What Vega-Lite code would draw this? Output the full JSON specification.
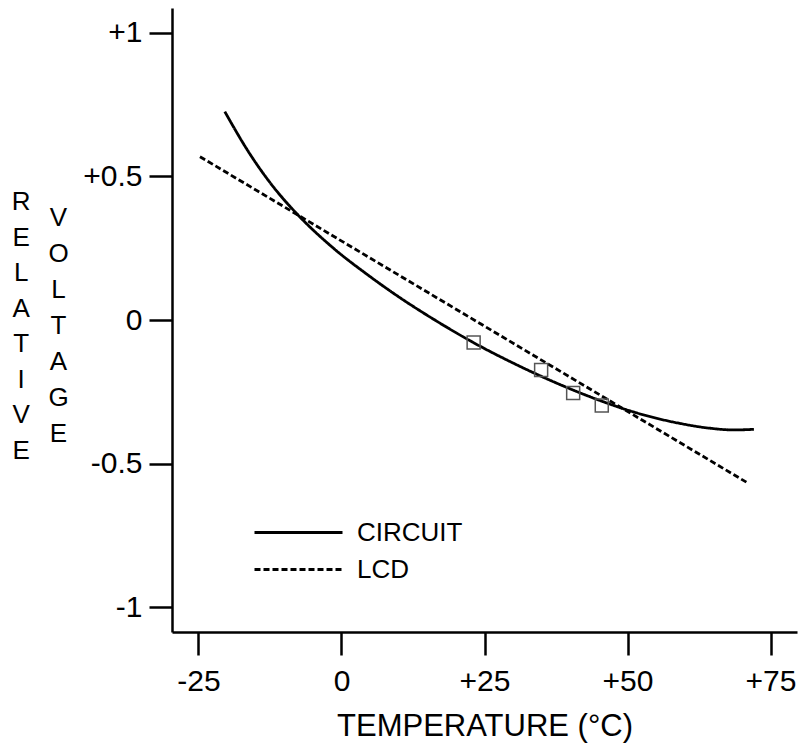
{
  "$schema": "https://vega.github.io/schema/vega-lite/v6.json",
  "width": 625,
  "height": 624,
  "autosize": {"type": "none"},
  "padding": {"left": 172, "top": 8, "right": 6, "bottom": 114},
  "background": "white",
  "title": {
    "text": ["R", "E", "L", "A", "T", "I", "V", "E"],
    "orient": "left",
    "anchor": "middle",
    "angle": 0,
    "align": "center",
    "baseline": "middle",
    "lineHeight": 35.5,
    "fontSize": 26,
    "font": "Liberation Sans",
    "fontWeight": "normal",
    "color": "black",
    "offset": 8,
    "dy": -118
  },
  "config": {
    "view": {"stroke": null},
    "axis": {
      "grid": false,
      "domainColor": "black",
      "domainWidth": 2.5,
      "tickColor": "black",
      "tickWidth": 2.5,
      "tickSize": 23,
      "labelFont": "Liberation Sans",
      "labelFontSize": 30,
      "labelColor": "black",
      "titleFont": "Liberation Sans",
      "titleFontWeight": "normal",
      "titleColor": "black"
    },
    "legend": {
      "labelFont": "Liberation Sans",
      "labelFontSize": 26,
      "labelColor": "black"
    }
  },
  "datasets": {
    "curves": [
      {"temp": -20.4, "voltage": 0.726, "series": "CIRCUIT"},
      {"temp": -16.0, "voltage": 0.578, "series": "CIRCUIT"},
      {"temp": -12.0, "voltage": 0.466, "series": "CIRCUIT"},
      {"temp": -7.8, "voltage": 0.37, "series": "CIRCUIT"},
      {"temp": -1.4, "voltage": 0.25, "series": "CIRCUIT"},
      {"temp": 4.4, "voltage": 0.16, "series": "CIRCUIT"},
      {"temp": 10.2, "voltage": 0.078, "series": "CIRCUIT"},
      {"temp": 15.5, "voltage": 0.01, "series": "CIRCUIT"},
      {"temp": 23.0, "voltage": -0.078, "series": "CIRCUIT"},
      {"temp": 30.0, "voltage": -0.15, "series": "CIRCUIT"},
      {"temp": 39.4, "voltage": -0.235, "series": "CIRCUIT"},
      {"temp": 45.8, "voltage": -0.285, "series": "CIRCUIT"},
      {"temp": 51.0, "voltage": -0.32, "series": "CIRCUIT"},
      {"temp": 58.6, "voltage": -0.358, "series": "CIRCUIT"},
      {"temp": 64.4, "voltage": -0.377, "series": "CIRCUIT"},
      {"temp": 68.5, "voltage": -0.383, "series": "CIRCUIT"},
      {"temp": 72.1, "voltage": -0.381, "series": "CIRCUIT"},
      {"temp": -24.74, "voltage": 0.569, "series": "LCD"},
      {"temp": 70.95, "voltage": -0.567, "series": "LCD"}
    ],
    "measured": [
      {"temp": 23.1, "voltage": -0.078},
      {"temp": 34.9, "voltage": -0.174},
      {"temp": 40.5, "voltage": -0.254},
      {"temp": 45.5, "voltage": -0.298}
    ]
  },
  "encoding": {
    "x": {
      "field": "temp",
      "type": "quantitative",
      "scale": {"domain": [-29.63, 79.63], "nice": false, "zero": false},
      "axis": {
        "values": [-25, 0, 25, 50, 75],
        "labelExpr": "datum.value > 0 ? '+' + datum.value : (datum.value < 0 ? '-' + abs(datum.value) : '0')",
        "labelPadding": 11,
        "title": "TEMPERATURE (°C)",
        "titleFontSize": 31,
        "titlePadding": 15
      }
    },
    "y": {
      "field": "voltage",
      "type": "quantitative",
      "scale": {"domain": [-1.087, 1.087], "nice": false, "zero": false},
      "axis": {
        "values": [-1, -0.5, 0, 0.5, 1],
        "labelExpr": "datum.value > 0 ? '+' + datum.value : (datum.value < 0 ? '-' + abs(datum.value) : '0')",
        "labelPadding": 7,
        "title": ["V", "O", "L", "T", "A", "G", "E"],
        "titleFontSize": 26,
        "titleAngle": 0,
        "titleAlign": "center",
        "titleBaseline": "middle",
        "titleLineHeight": 36,
        "titleX": -114,
        "titleY": 209
      }
    }
  },
  "layer": [
    {
      "data": {"name": "curves"},
      "mark": {"type": "line", "color": "black", "strokeWidth": 2.8, "interpolate": "monotone"},
      "encoding": {
        "strokeDash": {
          "field": "series",
          "type": "nominal",
          "scale": {"domain": ["CIRCUIT", "LCD"], "range": [[1, 0], [6, 3]]},
          "legend": {
            "title": null,
            "orient": "none",
            "legendX": 81,
            "legendY": 506,
            "symbolType": "stroke",
            "symbolSize": 7744,
            "symbolStrokeWidth": 3,
            "symbolStrokeColor": "black",
            "clipHeight": 37,
            "rowPadding": 0,
            "labelOffset": 13
          }
        }
      }
    },
    {
      "data": {"name": "measured"},
      "mark": {"type": "point", "shape": "square", "filled": false, "stroke": "#555555", "strokeWidth": 1.5, "size": 169, "opacity": 1}
    }
  ]
}
